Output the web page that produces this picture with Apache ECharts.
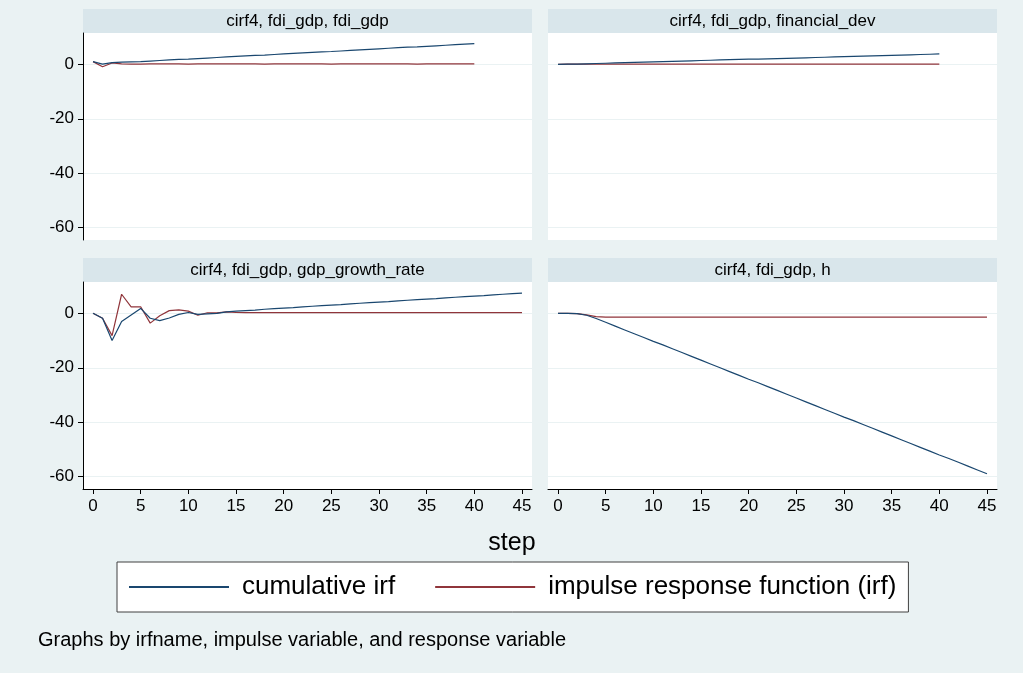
<!DOCTYPE html>
<html><head><meta charset="utf-8">
<script src="https://cdn.jsdelivr.net/npm/echarts@6/dist/echarts.min.js"></script>
<style>html,body{margin:0;padding:0;background:#eaf2f3;}#c{width:1023px;height:673px;}</style>
</head><body><div id="c"></div>
<script>
const steps = [0,1,2,3,4,5,6,7,8,9,10,11,12,13,14,15,16,17,18,19,20,21,22,23,24,25,26,27,28,29,30,31,32,33,34,35,36,37,38,39,40,41,42,43,44,45];
const panelTitles = ['cirf4, fdi_gdp, fdi_gdp','cirf4, fdi_gdp, financial_dev','cirf4, fdi_gdp, gdp_growth_rate','cirf4, fdi_gdp, h'];
const seriesNames = ['cumulative irf','impulse response function (irf)'];
const xTicks = [0,5,10,15,20,25,30,35,40,45];
const yTicks = [-60,-40,-20,0];

// panel 1: fdi_gdp -> fdi_gdp (steps 0..40)
const cirfFdi = [1.0,0.1,0.6,0.8,0.9,1.0,1.2,1.4,1.6,1.8,1.9,2.1,2.3,2.5,2.7,2.9,3.1,3.3,3.4,3.6,3.8,4.0,4.2,4.4,4.6,4.7,4.9,5.1,5.3,5.5,5.7,5.9,6.1,6.3,6.4,6.6,6.8,7.0,7.2,7.4,7.6];
const irfFdi  = [1.0,-0.9,0.5,0.2,0.1,0.1,0.2,0.2,0.2,0.2,0.1,0.2,0.2,0.2,0.2,0.2,0.2,0.2,0.1,0.2,0.2,0.2,0.2,0.2,0.2,0.1,0.2,0.2,0.2,0.2,0.2,0.2,0.2,0.2,0.1,0.2,0.2,0.2,0.2,0.2,0.2];
// panel 2: fdi_gdp -> financial_dev (steps 0..40)
const cirfFin = [0.0,0.1,0.1,0.2,0.3,0.4,0.5,0.6,0.7,0.8,0.9,1.0,1.1,1.2,1.3,1.4,1.5,1.6,1.7,1.8,1.9,1.9,2.0,2.1,2.2,2.3,2.4,2.5,2.6,2.7,2.8,2.9,3.0,3.1,3.2,3.3,3.4,3.5,3.6,3.7,3.8];
const irfFin  = [0.0,0.05,0.05,0.1,0.1,0.1,0.1,0.1,0.1,0.1,0.1,0.1,0.1,0.1,0.1,0.1,0.1,0.1,0.1,0.1,0.1,0.1,0.1,0.1,0.1,0.1,0.1,0.1,0.1,0.1,0.1,0.1,0.1,0.1,0.1,0.1,0.1,0.1,0.1,0.1,0.1];
// panel 3: fdi_gdp -> gdp_growth_rate (steps 0..45)
const cirfGdp = [0,-1.8,-10.0,-3.0,-0.6,1.8,-1.8,-2.7,-1.7,-0.4,0.3,-0.4,-0.2,0.0,0.5,0.8,1.0,1.2,1.5,1.7,1.9,2.1,2.4,2.6,2.8,3.0,3.2,3.5,3.7,3.9,4.1,4.3,4.6,4.8,5.0,5.2,5.4,5.7,5.9,6.1,6.3,6.5,6.8,7.0,7.2,7.4];
const irfGdp  = [0,-1.8,-8.2,7.0,2.4,2.4,-3.6,-0.9,1.0,1.3,0.8,-0.7,0.2,0.2,0.5,0.3,0.25,0.22,0.22,0.22,0.22,0.22,0.22,0.22,0.22,0.22,0.22,0.22,0.22,0.22,0.22,0.22,0.22,0.22,0.22,0.22,0.22,0.22,0.22,0.22,0.22,0.22,0.22,0.22,0.22,0.22];
// panel 4: fdi_gdp -> h (steps 0..45)
const cirfH = [0,0,-0.1,-0.7,-1.9,-3.3,-4.7,-6.1,-7.5,-8.9,-10.3,-11.6,-13.0,-14.4,-15.8,-17.2,-18.6,-20.0,-21.4,-22.8,-24.2,-25.5,-26.9,-28.3,-29.7,-31.1,-32.5,-33.9,-35.3,-36.7,-38.1,-39.4,-40.8,-42.2,-43.6,-45.0,-46.4,-47.8,-49.2,-50.6,-52.0,-53.3,-54.7,-56.1,-57.5,-58.9];
const irfH  = [0,0,-0.1,-0.6,-1.2,-1.4,-1.4,-1.4,-1.4,-1.4,-1.4,-1.4,-1.4,-1.4,-1.4,-1.4,-1.4,-1.4,-1.4,-1.4,-1.4,-1.4,-1.4,-1.4,-1.4,-1.4,-1.4,-1.4,-1.4,-1.4,-1.4,-1.4,-1.4,-1.4,-1.4,-1.4,-1.4,-1.4,-1.4,-1.4,-1.4,-1.4,-1.4,-1.4,-1.4,-1.4];

const panelData = [[cirfFdi, irfFdi],[cirfFin, irfFin],[cirfGdp, irfGdp],[cirfH, irfH]];
const colors = ['#1a476f','#90353b'];
const FONT = "'Liberation Sans', Arial, Helvetica, sans-serif";
const BG = '#eaf2f3';

const grids = [
  {left:83, top:33, width:449, height:207},
  {left:548, top:33, width:449, height:207},
  {left:83, top:282, width:449, height:207},
  {left:548, top:282, width:449, height:207}
];
const titleBars = [
  {x:83, y:9}, {x:548, y:9}, {x:83, y:258}, {x:548, y:258}
];

const xAxes = grids.map((g,i)=>({
  type:'value', gridIndex:i, min:-1.05, max:46.05,
  show: i>=2,
  axisLine:{show:true, onZero:false, lineStyle:{color:'#000', width:1}},
  axisTick:{show:true, length:5, inside:false, customValues:xTicks, lineStyle:{color:'#000'}},
  axisLabel:{show:true, customValues:xTicks, fontSize:17, color:'#000', fontFamily:FONT, margin:9},
  splitLine:{show:false}
}));
const yAxes = grids.map((g,i)=>({
  type:'value', gridIndex:i, min:-64.5, max:11.5,
  axisLine:{show: i%2===0, onZero:false, lineStyle:{color:'#000', width:1}},
  axisTick:{show: i%2===0, length:5, customValues:yTicks, lineStyle:{color:'#000'}},
  axisLabel:{show: i%2===0, customValues:yTicks, fontSize:17, color:'#000', fontFamily:FONT, margin:9},
  splitLine:{show:true, lineStyle:{color:BG, width:1}}
}));

const series = [];
panelData.forEach((pair, p)=>{
  pair.forEach((vals, k)=>{
    series.push({
      name: seriesNames[k], type:'line', xAxisIndex:p, yAxisIndex:p,
      data: vals.map((v,j)=>[steps[j], v]),
      symbol:'none', showSymbol:false, animation:false,
      lineStyle:{color:colors[k], width:1.2}, itemStyle:{color:colors[k]},
      z: k===0 ? 3 : 2
    });
  });
});

const graphics = [];
titleBars.forEach((t,i)=>{
  graphics.push({type:'rect', left:t.x, top:t.y, shape:{width:449, height:24}, style:{fill:'#d9e6eb'}, silent:true});
  graphics.push({type:'text', x:t.x+224.5, y:t.y+12, style:{text:panelTitles[i], fill:'#000', font:'17px '+FONT, textAlign:'center', textVerticalAlign:'middle'}, silent:true});
});
graphics.push({type:'text', x:512, y:543, style:{text:'step', fill:'#000', font:'25px '+FONT, textAlign:'center', textVerticalAlign:'middle'}});
graphics.push({type:'text', x:38, y:640, style:{text:'Graphs by irfname, impulse variable, and response variable', fill:'#000', font:'20px '+FONT, textAlign:'left', textVerticalAlign:'middle'}});

const chart = echarts.init(document.getElementById('c'), null, {renderer:'canvas'});
chart.setOption({
  backgroundColor: BG,
  animation:false,
  grid: grids.map(g=>Object.assign({show:true, backgroundColor:'#fff', borderWidth:0, containLabel:false}, g)),
  xAxis: xAxes,
  yAxis: yAxes,
  legend: {
    data: seriesNames, left:117, top:562, orient:'horizontal',
    icon:'rect', itemWidth:100, itemHeight:2, itemGap:40,
    padding:[12,12,12,12],
    backgroundColor:'#fff', borderColor:'#404040', borderWidth:1,
    textStyle:{fontSize:26, color:'#000', fontFamily:FONT, padding:[0,0,0,8]},
    selectedMode:false
  },
  graphic: graphics,
  series: series
});
</script></body></html>
